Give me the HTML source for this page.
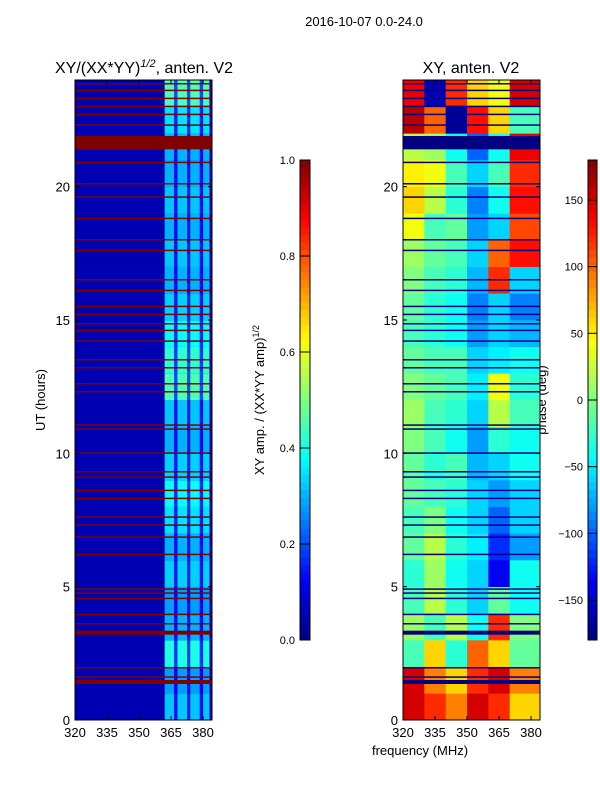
<!DOCTYPE html>
<html><head><meta charset="utf-8"><style>
body{margin:0;background:#fff;}
svg{display:block;font-family:"Liberation Sans","DejaVu Sans",sans-serif;}
</style></head><body>
<svg id="fig" width="600" height="800" viewBox="0 0 600 800">
<text x="364" y="26" font-size="13" text-anchor="middle">2016-10-07 0.0-24.0</text>
<text x="144" y="73" font-size="16" text-anchor="middle">XY/(XX*YY)<tspan dy="-6" font-size="11" font-style="italic">1/2</tspan><tspan dy="6">, anten. V2</tspan></text>
<text x="471" y="73" font-size="16" text-anchor="middle">XY, anten. V2</text>
<text transform="translate(45,400) rotate(-90)" font-size="13" text-anchor="middle">UT (hours)</text>
<text transform="translate(264,400) rotate(-90)" font-size="13" text-anchor="middle">XY amp. / (XX*YY amp)<tspan dy="-5" font-size="9">1/2</tspan></text>
<text transform="translate(546,400) rotate(-90)" font-size="13" text-anchor="middle">phase (deg)</text>
<text x="420" y="755" font-size="13" text-anchor="middle">frequency (MHz)</text>
<g id="left"></g><g id="right"></g><g id="cb1"></g><g id="cb2"></g>
</svg>
<script>
const hours=[0,1,2,3,4,5,6,7,8,9,10,11,12,13,14,15,16,17,18,19,20,21,22,23];
const ampBand=[0.32,0.28,0.4,0.3,0.28,0.33,0.3,0.35,0.38,0.33,0.3,0.32,0.45,0.42,0.38,0.33,0.3,0.32,0.3,0.32,0.3,0.3,0.35,0.45];
const ampBg=0.05;
const bandCols=[[362,366.5,1],[366.5,368,0.45],[368,372.5,1],[372.5,374,0.45],[374,378.5,1],[378.5,380,0.45],[380,383,1]];
const flagHours=[1.6,1.95,3.25,3.6,3.95,4.55,4.75,4.9,6.2,6.85,7.3,7.6,8.3,8.6,9.1,9.3,10.0,10.9,11.05,12.3,12.6,13.2,13.5,14.2,14.6,14.85,15.2,15.5,16.1,16.5,17.6,18.0,18.8,19.6,20.1,20.9,22.3,22.7,23.0,23.3,23.6,23.85];
const flagBlocks=[[1.35,1.5],[3.2,3.35],[21.4,21.9]];
const phaseCols=[320,330,340,350,360,370,384.2];
const phase=[
[150,120,90,150,120,60],[150,90,60,120,150,90],[-20,60,-30,100,60,-10],[10,-20,20,-40,120,0],
[-20,20,-30,-60,-10,-40],[-30,10,-40,-60,-140,-40],[-10,20,-30,-50,-120,-80],[-20,0,-40,-60,-100,-60],
[-10,-20,-30,-60,-80,-60],[-10,-30,-20,-70,-60,-40],[0,-20,-40,-80,-30,-40],[10,-20,-30,-60,20,-20],
[0,-10,-20,-50,40,-30],[-10,-20,-20,-60,-50,-40],[-20,-30,-40,-80,-60,-70],[-10,-30,-40,-90,-60,-90],
[0,-20,-30,-70,120,-60],[10,-10,-20,-60,100,130],[40,-20,-10,-80,-60,110],[60,20,-30,-90,-40,130],
[50,40,-20,-60,-20,120],[20,10,-40,-100,-40,140],[160,100,-170,130,60,-20],[140,-160,120,60,40,150]];
const yTicks=[0,5,10,15,20];
const xTicks=[320,335,350,365,380];
const ampTicks=[0.0,0.2,0.4,0.6,0.8,1.0];
const phaseTicks=[-150,-100,-50,0,50,100,150];

const NS="http://www.w3.org/2000/svg";
function jet(v){v=Math.max(0,Math.min(1,v));
 const r=Math.max(0,Math.min(1,1.5-Math.abs(4*v-3))),g=Math.max(0,Math.min(1,1.5-Math.abs(4*v-2))),b=Math.max(0,Math.min(1,1.5-Math.abs(4*v-1)));
 return `rgb(${Math.round(r*255)},${Math.round(g*255)},${Math.round(b*255)})`;}
function mk(tag,attrs,parent){const e=document.createElementNS(NS,tag);for(const k in attrs)e.setAttribute(k,attrs[k]);parent.appendChild(e);return e;}
const Y0=720,Y1=80,F0=320,F1=384.2;
function yS(h){return Y0-(h/24)*(Y0-Y1);}
function panel(gid,x0,x1){
 const g=document.getElementById(gid);
 const xS=f=>x0+(f-F0)/(F1-F0)*(x1-x0);
 return {g,xS};
}
{const {g,xS}=panel('left',75,212);
 hours.forEach((h,i)=>{
  const r=mk('rect',{x:xS(F0),y:yS(h+1),width:xS(F1)-xS(F0),height:yS(h)-yS(h+1)+0.3,fill:jet(ampBg)},g);
  
  
  bandCols.forEach(c=>{
   const v=c[2]===1?ampBand[i]:ampBand[i]*c[2];
   const b=mk('rect',{x:xS(c[0]),y:yS(h+1),width:xS(c[1])-xS(c[0]),height:yS(h)-yS(h+1)+0.3,fill:jet(v)},g);
   
   
  });
 });
 flagHours.forEach(h=>{
  const r=mk('rect',{x:xS(F0),y:yS(h)-1,width:xS(F1)-xS(F0),height:1.5,fill:jet(1)},g);
  
  
 });
 flagBlocks.forEach(b=>{
  const r=mk('rect',{x:xS(F0),y:yS(b[1]),width:xS(F1)-xS(F0),height:yS(b[0])-yS(b[1]),fill:jet(1)},g);
  
  
 });
 axes(g,xS,75,212);
}
{const {g,xS}=panel('right',403,540);
 hours.forEach((h,i)=>{
  phase[i].forEach((v,j)=>{
   const r=mk('rect',{x:xS(phaseCols[j]),y:yS(h+1),width:xS(phaseCols[j+1])-xS(phaseCols[j])+0.3,height:yS(h)-yS(h+1)+0.3,fill:jet((v+180)/360)},g);
   
   
  });
 });
 flagHours.forEach(h=>{
  const r=mk('rect',{x:xS(F0),y:yS(h)-1,width:xS(F1)-xS(F0),height:1.5,fill:jet(0)},g);
  
  
 });
 flagBlocks.forEach(b=>{
  const r=mk('rect',{x:xS(F0),y:yS(b[1]),width:xS(F1)-xS(F0),height:yS(b[0])-yS(b[1]),fill:jet(0)},g);
  
  
 });
 axes(g,xS,403,540);
}
function axes(g,xS,x0,x1){
 const f=mk('rect',{x:x0,y:Y1,width:x1-x0,height:Y0-Y1,fill:'none',stroke:'#000','stroke-width':1},g);
 
 
 yTicks.forEach(t=>{
  mk('line',{x1:x0,x2:x0+4,y1:yS(t),y2:yS(t),stroke:'#000'},g);
  mk('line',{x1:x1,x2:x1-4,y1:yS(t),y2:yS(t),stroke:'#000'},g);
  const l=mk('text',{x:x0-5,y:yS(t)+5,'font-size':13,'text-anchor':'end'},g);l.textContent=t;
  
  
 });
 xTicks.forEach(t=>{
  mk('line',{x1:xS(t),x2:xS(t),y1:Y0,y2:Y0-4,stroke:'#000'},g);
  mk('line',{x1:xS(t),x2:xS(t),y1:Y1,y2:Y1+4,stroke:'#000'},g);
  const l=mk('text',{x:xS(t),y:Y0+17,'font-size':13,'text-anchor':'middle'},g);l.textContent=t;
  
  
 });
}
function colorbar(gid,x0,w,vmin,vmax,ticks,fmt){
 const g=document.getElementById(gid);const top=160,bot=640,n=64;
 const cS=v=>bot-(v-vmin)/(vmax-vmin)*(bot-top);
 for(let k=0;k<n;k++){
  mk('rect',{x:x0,y:top+(bot-top)*k/n,width:w,height:(bot-top)/n+0.5,fill:jet(1-(k+0.5)/n)},g);
 }
 const f=mk('rect',{x:x0,y:top,width:w,height:bot-top,fill:'none',stroke:'#000'},g);
 
 
 ticks.forEach(t=>{
  mk('line',{x1:x0,x2:x0+w,y1:cS(t),y2:cS(t),stroke:'#000'},g);
  const l=mk('text',{x:x0-5,y:cS(t)+4,'font-size':11,'text-anchor':'end'},g);l.textContent=fmt(t);
  
  
 });
}
colorbar('cb1',300,10,0,1,ampTicks,t=>t.toFixed(1));
colorbar('cb2',588,9,-180,180,phaseTicks,t=>t<0?'\u2212'+(-t):String(t));
</script>
</body></html>
